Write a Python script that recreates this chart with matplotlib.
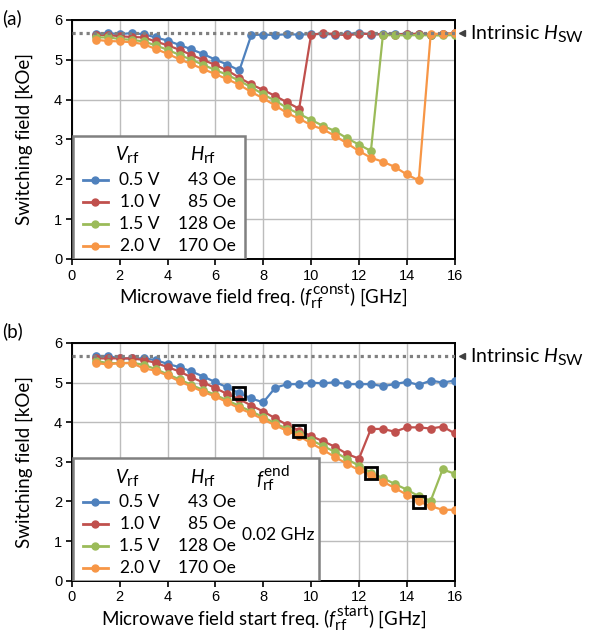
import numpy as np
import matplotlib
matplotlib.use("Agg")
import matplotlib.pyplot as plt
from matplotlib.lines import Line2D
from matplotlib.patches import Rectangle
import matplotlib._mathtext as mtext

# bigger sub/superscripts, closer to the original look
mtext.SHRINK_FACTOR = 0.82

plt.rcParams['font.family'] = ['Lato', 'DejaVu Sans']
plt.rcParams['mathtext.fontset'] = 'custom'
plt.rcParams['mathtext.rm'] = 'Lato'
plt.rcParams['mathtext.it'] = 'Lato:italic'

# %% data
freq = [1.0, 1.5, 2.0, 2.5, 3.0, 3.5, 4.0, 4.5, 5.0, 5.5, 6.0, 6.5, 7.0, 7.5, 8.0, 8.5,
        9.0, 9.5, 10.0, 10.5, 11.0, 11.5, 12.0, 12.5, 13.0, 13.5, 14.0, 14.5, 15.0, 15.5, 16.0]

# (a) constant frequency
blue_a = [5.65, 5.67, 5.64, 5.67, 5.64, 5.56, 5.48, 5.37, 5.26, 5.14, 5.00, 4.88, 4.73,
          5.62, 5.63, 5.62, 5.64, 5.63, 5.64, 5.65, 5.63, 5.64, 5.68, 5.63, 5.65, 5.64, 5.65, 5.64, 5.63, 5.65, 5.66]
red_a = [5.62, 5.62, 5.59, 5.57, 5.56, 5.46, 5.36, 5.25, 5.12, 4.99, 4.87, 4.73, 4.55, 4.38, 4.24, 4.09, 3.93, 3.77,
         5.63, 5.66, 5.65, 5.61, 5.65, 5.65, 5.63, 5.63, 5.65, 5.65, 5.63, 5.65, 5.66]
green_a = [5.56, 5.56, 5.52, 5.50, 5.46, 5.36, 5.25, 5.12, 5.00, 4.87, 4.74, 4.62, 4.47, 4.31, 4.13, 3.97,
           3.79, 3.64, 3.49, 3.34, 3.21, 3.03, 2.87, 2.71,
           5.61, 5.62, 5.61, 5.62, 5.61, 5.61, 5.62]
orange_a = [5.50, 5.47, 5.46, 5.44, 5.39, 5.27, 5.15, 5.01, 4.89, 4.76, 4.64, 4.51, 4.37, 4.19, 4.03, 3.85,
            3.66, 3.52, 3.36, 3.25, 3.09, 2.90, 2.71, 2.54, 2.44, 2.31, 2.12, 1.97,
            5.65, 5.65, 5.66]

# (b) swept frequency (start -> 0.02 GHz)
blue_b = [5.67, 5.67, 5.61, 5.61, 5.61, 5.57, 5.47, 5.39, 5.28, 5.15, 5.01, 4.88, 4.73, 4.60, 4.50,
          4.87, 4.96, 4.96, 5.00, 4.98, 5.01, 4.96, 4.96, 4.96, 4.91, 4.96, 5.02, 4.94, 5.05, 5.00, 5.05]
red_b = [5.61, 5.61, 5.61, 5.61, 5.57, 5.50, 5.39, 5.28, 5.13, 5.00, 4.86, 4.71, 4.58, 4.42, 4.27, 4.10,
         3.93, 3.79, 3.65, 3.52, 3.38, 3.20, 3.08,
         3.83, 3.83, 3.76, 3.87, 3.87, 3.84, 3.89, 3.72]
green_b = [5.55, 5.49, 5.49, 5.50, 5.45, 5.34, 5.21, 5.08, 4.94, 4.81, 4.69, 4.55, 4.41, 4.27, 4.13, 3.97,
           3.83, 3.70, 3.55, 3.40, 3.25, 3.07, 2.90, 2.73, 2.59, 2.44, 2.30, 2.13, 2.02,
           2.81, 2.70]
orange_b = [5.49, 5.46, 5.49, 5.49, 5.36, 5.30, 5.18, 5.03, 4.90, 4.76, 4.65, 4.50, 4.35, 4.22, 4.07, 3.92,
            3.78, 3.65, 3.47, 3.30, 3.12, 2.95, 2.79, 2.67, 2.50, 2.34, 2.17, 2.00, 1.88, 1.79, 1.79]

# switching points from (a), marked in (b)
sq_x = [7.0, 9.5, 12.5, 14.5]
sq_y = [4.73, 3.78, 2.72, 1.98]

h_sw = 5.66

volts = ["0.5 V", "1.0 V", "1.5 V", "2.0 V"]
fields = ["43 Oe", "85 Oe", "128 Oe", "170 Oe"]
colors = ["#4f81bd", "#c0504d", "#9bbb59", "#f79646"]

# %% figure
fig = plt.figure(figsize=(5.99, 6.41), dpi=100)
ax_a = fig.add_axes([0.120, 0.596, 0.639, 0.373])
ax_b = fig.add_axes([0.120, 0.094, 0.639, 0.371])


def setup(ax, series, xlabel):
    for ys, c in zip(series, colors):
        ax.plot(freq, ys, '-o', color=c, lw=1.6, ms=5.2, zorder=3)
    ax.plot([0, 16], [h_sw, h_sw], color='#808080', lw=2.3, ls=(0, (1, 1.2)), zorder=4)
    ax.set_xlim(0, 16)
    ax.set_ylim(0, 6)
    ax.set_xticks(range(0, 17, 2))
    ax.set_yticks(range(0, 7))
    ax.grid(True, color='#bcbcbc', lw=1.0)
    ax.set_axisbelow(True)
    for s in ax.spines.values():
        s.set_linewidth(1.4)
        s.set_color('black')
    ax.tick_params(direction='out', length=4, width=1.2, pad=3)
    for lab in ax.get_xticklabels() + ax.get_yticklabels():
        lab.set_fontfamily('Liberation Sans')
        lab.set_fontsize(10.5)
    ax.set_xlabel(xlabel, fontsize=13.5, labelpad=0)
    ax.set_ylabel("Switching field [kOe]", fontsize=13.5, labelpad=15)
    # intrinsic Hsw marker outside the axes
    ax.plot([16.3], [h_sw], marker='<', color='#404040', ms=5, clip_on=False)
    ax.text(16.65, h_sw, "Intrinsic $H_{\\rm SW}$", fontsize=14, va='center', ha='left',
            clip_on=False)


setup(ax_a, [blue_a, red_a, green_a, orange_a],
      "Microwave field freq. ($f_{\\rm rf}^{\\rm const}$) [GHz]")
setup(ax_b, [blue_b, red_b, green_b, orange_b],
      "Microwave field start freq. ($f_{\\rm rf}^{\\rm start}$) [GHz]")

ax_b.plot(sq_x, sq_y, 's', mfc='none', mec='black', mew=2, ms=9, zorder=5)


def legend_box(ax, width, with_end):
    tr = ax.transAxes
    ax.add_patch(Rectangle((0.003, 0.0), width, 0.515, transform=tr, facecolor='white',
                           edgecolor='#808080', lw=1.8, zorder=6))
    ax.text(0.144, 0.435, "$V_{\\rm rf}$", transform=tr, fontsize=13.5, ha='center', va='center', zorder=7)
    ax.text(0.342, 0.435, "$H_{\\rm rf}$", transform=tr, fontsize=13.5, ha='center', va='center', zorder=7)
    rows = [0.332, 0.239, 0.146, 0.054]
    for y, c, v, f in zip(rows, colors, volts, fields):
        ax.add_line(Line2D([0.029, 0.094], [y, y], transform=tr, color=c, lw=2, zorder=7))
        ax.add_line(Line2D([0.061], [y], transform=tr, color=c, marker='o', ms=5, zorder=7))
        ax.text(0.230, y, v, transform=tr, fontsize=12.5, ha='right', va='center', zorder=7)
        ax.text(0.428, y, f, transform=tr, fontsize=12.5, ha='right', va='center', zorder=7)
    if with_end:
        ax.text(0.525, 0.430, "$f_{\\rm rf}^{\\rm end}$", transform=tr, fontsize=13.5,
                ha='center', va='center', zorder=7)
        ax.text(0.540, 0.193, "0.02 GHz", transform=tr, fontsize=12.5, ha='center', va='center', zorder=7)


legend_box(ax_a, 0.449, False)
legend_box(ax_b, 0.643, True)

fig.text(0.003, 0.985, "(a)", fontsize=13.5, ha='left', va='top')
fig.text(0.003, 0.497, "(b)", fontsize=13.5, ha='left', va='top')

fig.savefig("out.png", dpi=100)
